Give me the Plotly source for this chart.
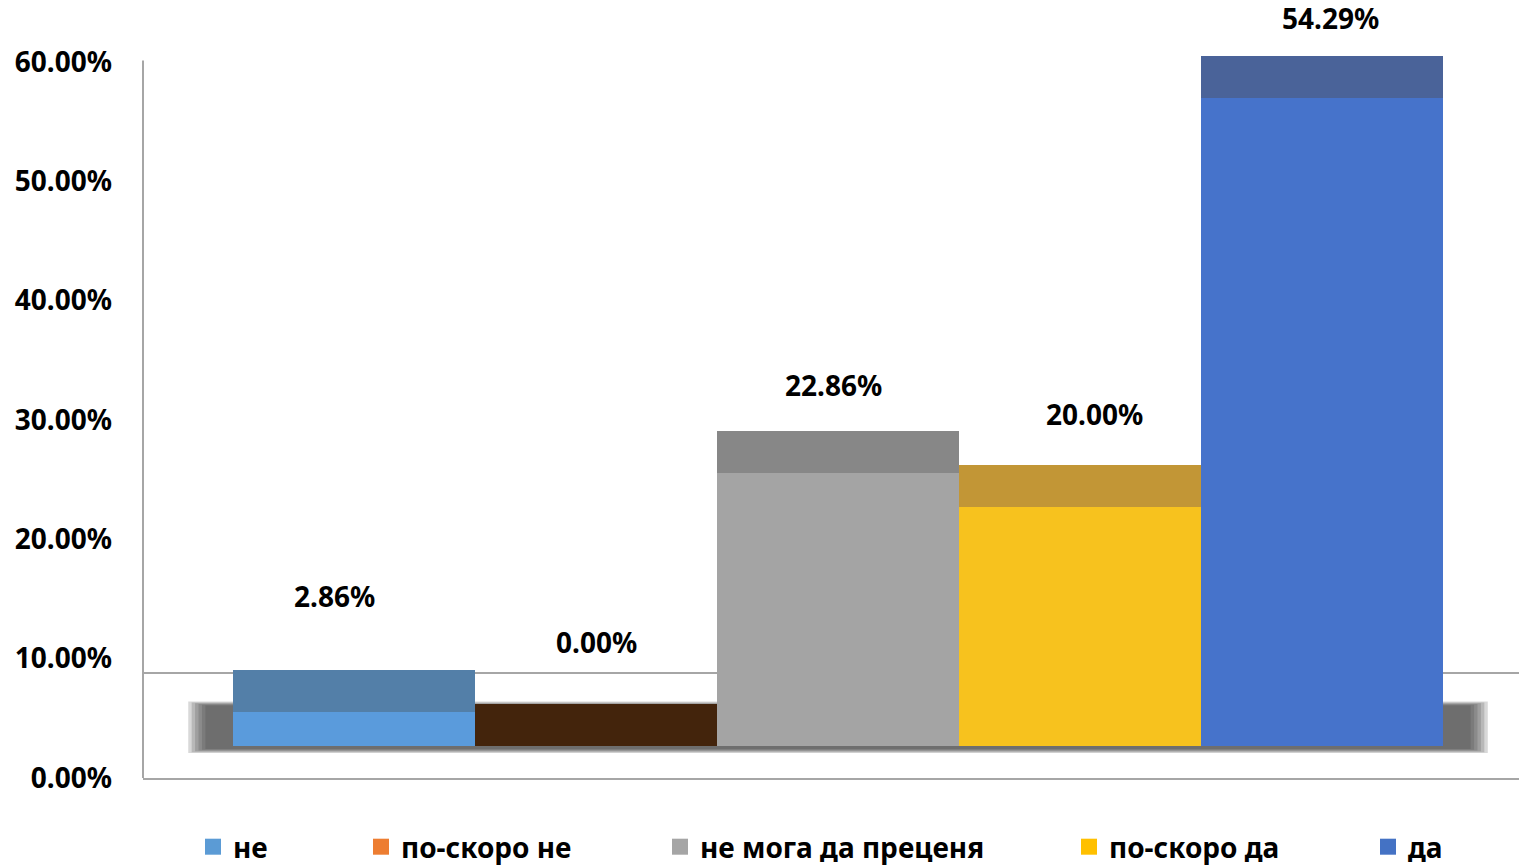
import plotly.graph_objects as go

# ---- data ----
categories = ["не", "по-скоро не", "не мога да преценя", "по-скоро да", "да"]
values = [2.86, 0.00, 22.86, 20.00, 54.29]
tick_vals = [0, 10, 20, 30, 40, 50, 60]
tick_text = ["0.00%", "10.00%", "20.00%", "30.00%", "40.00%", "50.00%", "60.00%"]

# ---- style ----
front_colors = ["#5A9BDC", "#ED7D31", "#A4A4A4", "#F7C21E", "#4673CB"]
top_colors = ["#537FA8", "#43240C", "#878787", "#C29636", "#4A6399"]
legend_colors = ["#5B9BD5", "#ED7D31", "#A5A5A5", "#FFC000", "#4472C4"]
FLOOR = 2.68     # 3D floor offset (axis units)
DEPTH = 3.52     # apparent depth of bar top face (axis units)
label_dy = [74, 62, 46, 51, 38]   # px above top face
label_dx = [-20, 0, -5, 14, 8]
legend_x_px = [193, 361, 660, 1069, 1368]
FONT = "Noto Sans"
FS = 28

fig = go.Figure()

# floor shadow (blurred band) built from stacked translucent rects
n_layers = 6
for k in range(n_layers):
    gx = 0.085 * (n_layers - k) / n_layers   # horizontal blur (axis units)
    gy = 0.40 * (n_layers - k) / n_layers    # vertical blur (axis units)
    fig.add_shape(type="rect", xref="x", yref="y",
                  x0=-0.60 - gx, x1=4.60 + gx, y0=2.50 - gy, y1=6.00 + gy,
                  fillcolor="#3A3A3A", opacity=0.2, line_width=0, layer="below")

# front faces
for i, (c, v) in enumerate(zip(categories, values)):
    fig.add_trace(go.Bar(x=[c], y=[v], base=[FLOOR], width=[1.0],
                         marker=dict(color=front_colors[i], line_width=0),
                         showlegend=False, hoverinfo="skip"))
# top faces
for i, (c, v) in enumerate(zip(categories, values)):
    fig.add_trace(go.Bar(x=[c], y=[DEPTH], base=[FLOOR + v], width=[1.0],
                         marker=dict(color=top_colors[i], line_width=0),
                         showlegend=False, hoverinfo="skip"))

# legend entries
for i, c in enumerate(categories):
    lname = "legend" if i == 0 else f"legend{i+1}"
    fig.add_trace(go.Scatter(x=[None], y=[None], mode="markers", name=c,
                             marker=dict(symbol="square", size=18, color=legend_colors[i]),
                             showlegend=True, legend=lname))

# data labels
for i, (c, v) in enumerate(zip(categories, values)):
    fig.add_annotation(x=c, y=FLOOR + v + DEPTH, text=f"{v:.2f}%", showarrow=False,
                       yshift=label_dy[i], xshift=label_dx[i],
                       font=dict(family=FONT, size=FS, color="#000000", weight="bold"))

# axis lines
fig.add_shape(type="line", xref="paper", yref="y", x0=0, x1=0, y0=0, y1=60.1,
              line=dict(color="#A6A6A6", width=2))
fig.add_shape(type="line", xref="paper", yref="y", x0=0, x1=1, y0=8.8, y1=8.8,
              line=dict(color="#A6A6A6", width=2), layer="below")

W, H = 1519, 865
L, R, T, B = 143, 0, 8, 87

legend_layout = {}
for i in range(5):
    lname = "legend" if i == 0 else f"legend{i+1}"
    legend_layout[lname] = dict(xref="container", yref="container",
                                x=legend_x_px[i] / W, xanchor="left",
                                y=1 - 847 / H, yanchor="middle",
                                orientation="h", bgcolor="rgba(0,0,0,0)",
                                font=dict(family=FONT, size=FS, color="#000000", weight="bold"))

fig.update_layout(
    width=W, height=H,
    margin=dict(l=L, r=R, t=T, b=B, autoexpand=False),
    paper_bgcolor="white", plot_bgcolor="white",
    barmode="overlay", bargap=0,
    xaxis=dict(type="category", categoryorder="array", categoryarray=categories,
               range=[-0.872, 4.814], showticklabels=False, showgrid=False,
               zeroline=False, showline=True, linecolor="#A6A6A6", linewidth=2),
    yaxis=dict(range=[0, 64.5], tickvals=tick_vals, ticktext=tick_text,
               showgrid=False, zeroline=False, showline=False,
               ticklabelstandoff=30,
               tickfont=dict(family=FONT, size=FS, color="#000000", weight="bold")),
    **legend_layout,
)

fig.write_html("out.html", config={"displayModeBar": False},
               post_script="document.body.style.margin='0';document.body.style.overflow='hidden';")
